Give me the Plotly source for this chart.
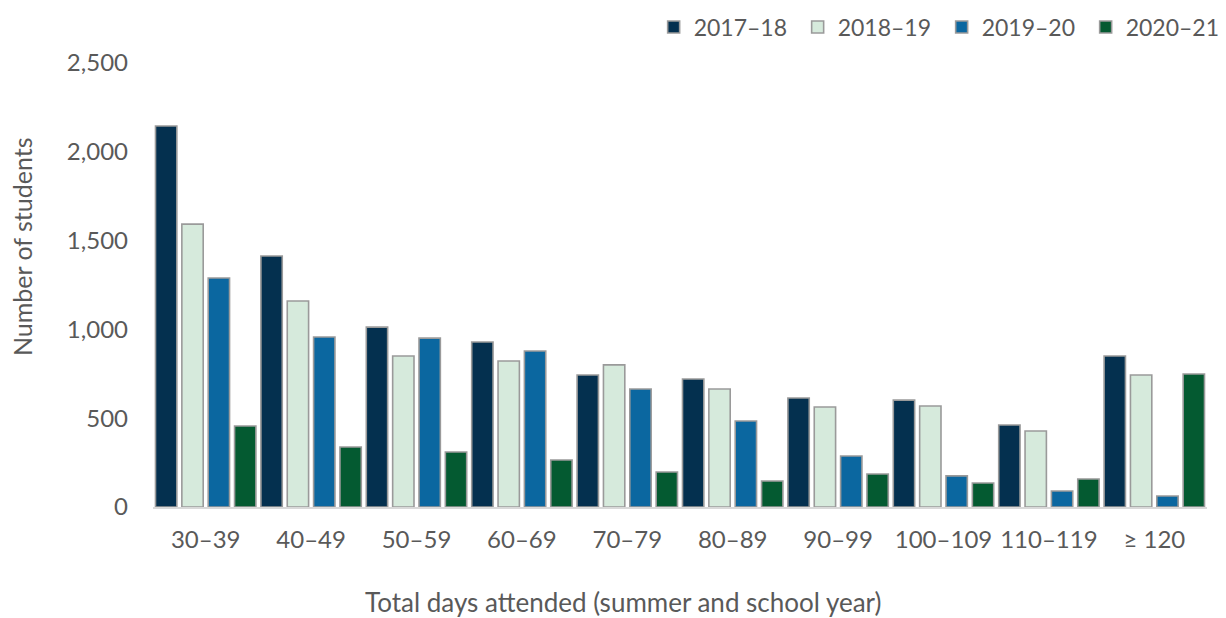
import plotly.graph_objects as go

# Attendance bands (total days, summer + school year)
categories = ["30–39", "40–49", "50–59", "60–69", "70–79",
              "80–89", "90–99", "100–109", "110–119", "≥ 120"]

students_2017_18 = [2145, 1413, 1013, 929, 743, 721, 614, 602, 462, 850]
students_2018_19 = [1593, 1160, 850, 822, 800, 664, 563, 569, 428, 743]
students_2019_20 = [1289, 957, 951, 878, 664, 484, 287, 175, 90, 62]
students_2020_21 = [456, 338, 310, 265, 197, 146, 186, 135, 158, 749]

series = [
    ("2017–18", students_2017_18, "#04304f"),
    ("2018–19", students_2018_19, "#d6eadc"),
    ("2019–20", students_2019_20, "#0b67a0"),
    ("2020–21", students_2020_21, "#045a31"),
]

y_ticks = [0, 500, 1000, 1500, 2000, 2500]
y_tick_text = ["0", "500", "1,000", "1,500", "2,000", "2,500"]

FONT = "Lato, 'Open Sans', sans-serif"
TEXT = "#595959"

fig = go.Figure()
for name, values, color in series:
    fig.add_trace(go.Bar(
        name=name, x=categories, y=values,
        marker=dict(color=color, line=dict(color="#9a9a9a", width=1.6)),
    ))

fig.update_layout(
    width=1226, height=618,
    margin=dict(l=153, r=19, t=63, b=111, autoexpand=False),
    paper_bgcolor="white", plot_bgcolor="white",
    barmode="group", bargap=0.0, bargroupgap=0.19,
    font=dict(family=FONT, size=24, color=TEXT),
    showlegend=True,
    legend=dict(orientation="h", x=0.475, xanchor="left",
                y=1.081, yanchor="middle", entrywidth=99,
                font=dict(family=FONT, size=23, color=TEXT),
                bgcolor="rgba(0,0,0,0)", itemclick=False),
    xaxis=dict(
        showgrid=False, showline=True, linecolor="#d9d9d9", linewidth=2,
        ticks="", ticklabelstandoff=10, automargin=False,
        tickfont=dict(family=FONT, size=24, color=TEXT),
    ),
    yaxis=dict(
        range=[0, 2500], tickvals=y_ticks, ticktext=y_tick_text,
        showgrid=False, showline=False, zeroline=False,
        ticks="", ticklabelstandoff=24, automargin=False,
        tickfont=dict(family=FONT, size=24, color=TEXT),
    ),
    annotations=[
        dict(text="Total days attended (summer and school year)",
             xref="paper", yref="paper", x=0.446, y=-0.214,
             xanchor="center", yanchor="middle", showarrow=False,
             font=dict(family=FONT, size=26, color=TEXT)),
        dict(text="Number of students", textangle=-90,
             xref="paper", yref="paper", x=-0.124, y=0.586,
             xanchor="center", yanchor="middle", showarrow=False,
             font=dict(family=FONT, size=25, color=TEXT)),
    ],
)

fig.write_html("out.html")
